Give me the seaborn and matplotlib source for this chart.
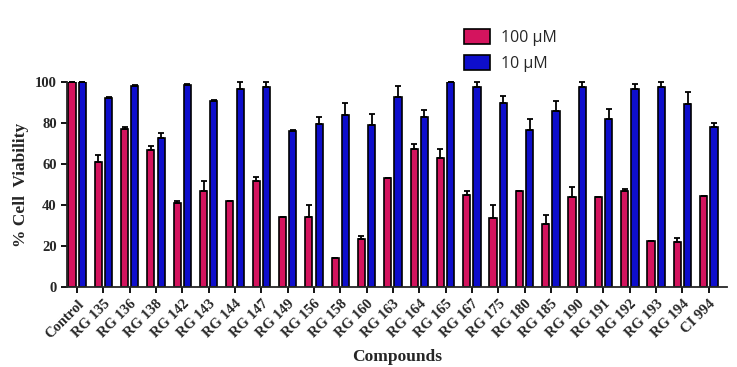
import numpy as np
import pandas as pd
import matplotlib
matplotlib.use("Agg")
import matplotlib.pyplot as plt
import seaborn as sns

# --- data ---
compounds = ["Control", "RG 135", "RG 136", "RG 138", "RG 142", "RG 143", "RG 144",
             "RG 147", "RG 149", "RG 156", "RG 158", "RG 160", "RG 163", "RG 164",
             "RG 165", "RG 167", "RG 175", "RG 180", "RG 185", "RG 190", "RG 191",
             "RG 192", "RG 193", "RG 194", "CI 994"]
conc_levels = ["100 \u03bcM", "10 \u03bcM"]

viab_100 = [100, 61, 77, 66.6, 40.7, 46.9, 42, 51.6, 34, 33.9, 14.3, 23.6, 53.1, 67.3,
            62.7, 44.8, 33.4, 46.7, 30.9, 43.8, 44, 46.7, 22.5, 22.1, 44.5]
err_100 = [0, 3.4, 0.9, 2.1, 1.2, 4.9, 0, 1.8, 0, 6, 0, 1.3, 0, 2.4,
           4.7, 1.8, 6.5, 0, 4.3, 4.7, 0, 1.3, 0, 2, 0]
viab_10 = [100, 92, 98, 72.5, 98.7, 90.9, 96.6, 97.4, 76, 79.5, 84, 79, 92.8, 82.9,
           99.7, 97.4, 89.9, 76.5, 85.8, 97.4, 81.8, 96.7, 97.4, 89.4, 78.2]
err_10 = [0, 0.5, 0.5, 2.5, 0.3, 0.3, 3.4, 2.6, 0.3, 3.5, 5.9, 5.2, 5.2, 3.6,
          0.2, 2.6, 3.1, 5.4, 4.9, 2.6, 5.2, 2.3, 2.6, 5.6, 1.8]

df = pd.DataFrame({
    "Compound": compounds * 2,
    "Conc": [conc_levels[0]] * len(compounds) + [conc_levels[1]] * len(compounds),
    "Viability": viab_100 + viab_10,
})
errors = [err_100, err_10]

sns.set_style("ticks")
plt.rcParams["font.family"] = ["Liberation Serif", "DejaVu Serif"]

fig = plt.figure(figsize=(7.37, 3.67), dpi=100)
ax = fig.add_axes([0.091, 0.218, 0.895, 0.559])

sns.barplot(data=df, x="Compound", y="Viability", hue="Conc", hue_order=conc_levels,
            palette=["#D4145E", "#0E0ECC"], saturation=1, width=0.78, gap=0.3,
            edgecolor="black", linewidth=1.2, errorbar=None, ax=ax)
bar_groups = list(ax.containers)

# upward-only error bars on top of each bar
for cont, errs in zip(bar_groups, errors):
    xs = [b.get_x() + b.get_width() / 2 for b in cont]
    hs = [b.get_height() for b in cont]
    ax.errorbar(xs, hs, yerr=[np.zeros(len(errs)), errs], fmt="none",
                ecolor="black", elinewidth=1.3, capsize=2, capthick=1.3,
                clip_on=False, zorder=5)

ax.set_ylim(0, 100)
ax.set_xlim(-0.38, 24.68)
ax.set_yticks([0, 20, 40, 60, 80, 100])
sns.despine(ax=ax)
ax.spines["left"].set_linewidth(1.3)
ax.spines["bottom"].set_linewidth(1.3)
ax.tick_params(axis="both", width=1.3, length=4, color="black")

for lbl in ax.get_yticklabels():
    lbl.set_fontweight("bold")
    lbl.set_fontsize(10.5)
ax.set_xticks(range(len(compounds)))
ax.set_xticklabels(compounds, rotation=45, ha="right", rotation_mode="anchor",
                   fontsize=10.5, fontweight="bold")

ax.set_ylabel("% Cell  Viability", fontsize=12.5, fontweight="bold")
ax.set_xlabel("Compounds", fontsize=12.5, fontweight="bold", labelpad=6)

ax.get_legend().remove()
handles = [cont.patches[0] for cont in bar_groups]
fig.legend(handles, conc_levels, loc="upper left", bbox_to_anchor=(0.61, 0.96),
           frameon=False, prop={"family": "Open Sans", "size": 11.5},
           handlelength=1.6, handleheight=1.1, labelspacing=0.55, handletextpad=0.7)

fig.savefig("out.png", dpi=100)
